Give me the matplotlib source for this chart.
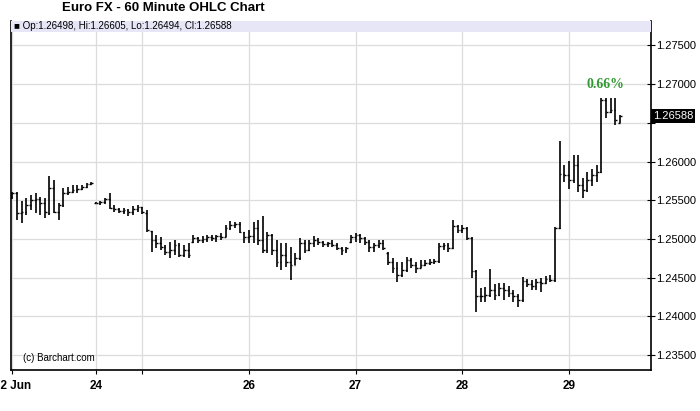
import numpy as np
import matplotlib
matplotlib.use('Agg')
import matplotlib.pyplot as plt
from matplotlib.patches import Rectangle
import matplotlib.transforms as mtransforms

plt.rcParams['font.family'] = ['Liberation Sans', 'DejaVu Sans']

# 60 minute OHLC bars, Euro FX, 22 Jun -> 29 Jun
opens = [
    1.2554, 1.2560, 1.2534, 1.2535, 1.2544, 1.2551, 1.2552, 1.2547, 1.2534, 1.2566,
    1.2535, 1.2544, 1.2560, 1.2561, 1.2563, 1.2565, 1.2567, 1.2571, 1.2547, 1.2547,
    1.2548, 1.2552, 1.2540, 1.2539, 1.2536, 1.2538, 1.2535, 1.2539, 1.2541, 1.2534,
    1.2510, 1.2499, 1.2495, 1.2490, 1.2483, 1.2486, 1.2492, 1.2479, 1.2486, 1.2496,
    1.2501, 1.2499, 1.2500, 1.2503, 1.2501, 1.2504, 1.2503, 1.2514, 1.2518, 1.2520,
    1.2509, 1.2503, 1.2504, 1.2514, 1.2499, 1.2486, 1.2505, 1.2486, 1.2470, 1.2479,
    1.2470, 1.2467, 1.2476, 1.2495, 1.2486, 1.2495, 1.2499, 1.2496, 1.2494, 1.2495,
    1.2492, 1.2488, 1.2486, 1.2496, 1.2503, 1.2505, 1.2501, 1.2496, 1.2490, 1.2492,
    1.2495, 1.2482, 1.2470, 1.2463, 1.2454, 1.2460, 1.2473, 1.2467, 1.2463, 1.2467,
    1.2469, 1.2470, 1.2472, 1.2491, 1.2492, 1.2488, 1.2517, 1.2512, 1.2514, 1.2501,
    1.2459, 1.2427, 1.2427, 1.2428, 1.2434, 1.2428, 1.2437, 1.2434, 1.2430, 1.2427,
    1.2421, 1.2446, 1.2442, 1.2439, 1.2444, 1.2443, 1.2448, 1.2447, 1.2514, 1.2584,
    1.2583, 1.2576, 1.2596, 1.2570, 1.2563, 1.2576, 1.2583, 1.2587, 1.2680, 1.2664,
    1.2667, 1.26498]
highs = [
    1.2561, 1.2561, 1.2549, 1.2553, 1.2557, 1.2560, 1.2554, 1.2553, 1.2582, 1.2576,
    1.2547, 1.2566, 1.2567, 1.2570, 1.2570, 1.2570, 1.2572, 1.2574, 1.2548, 1.2549,
    1.2553, 1.2560, 1.2544, 1.2540, 1.2540, 1.2539, 1.2543, 1.2544, 1.2541, 1.2538,
    1.2511, 1.2505, 1.2503, 1.2492, 1.2496, 1.2499, 1.2495, 1.2492, 1.2495, 1.2505,
    1.2503, 1.2504, 1.2505, 1.2505, 1.2505, 1.2508, 1.2518, 1.2523, 1.2522, 1.2522,
    1.2509, 1.2512, 1.2522, 1.2525, 1.2530, 1.2509, 1.2506, 1.2499, 1.2495, 1.2495,
    1.2490, 1.2482, 1.2501, 1.2499, 1.2499, 1.2504, 1.2501, 1.2498, 1.2496, 1.2499,
    1.2495, 1.2490, 1.2490, 1.2505, 1.2508, 1.2507, 1.2503, 1.2499, 1.2495, 1.2499,
    1.2499, 1.2483, 1.2476, 1.2470, 1.2470, 1.2477, 1.2476, 1.2470, 1.2473, 1.2473,
    1.2474, 1.2474, 1.2495, 1.2495, 1.2495, 1.2525, 1.2518, 1.2518, 1.2516, 1.2503,
    1.2460, 1.2437, 1.2438, 1.2461, 1.2442, 1.2443, 1.2443, 1.2439, 1.2434, 1.2429,
    1.2451, 1.2448, 1.2447, 1.2448, 1.2450, 1.2452, 1.2454, 1.2516, 1.2627, 1.2596,
    1.2601, 1.2609, 1.2609, 1.2579, 1.2587, 1.2591, 1.2596, 1.2682, 1.2682, 1.2682,
    1.2682, 1.26605]
lows = [
    1.2552, 1.2525, 1.2521, 1.2531, 1.2538, 1.2534, 1.2531, 1.2527, 1.2531, 1.2534,
    1.2525, 1.2541, 1.2557, 1.2560, 1.2560, 1.2563, 1.2566, 1.2570, 1.2546, 1.2544,
    1.2545, 1.2539, 1.2535, 1.2534, 1.2532, 1.2530, 1.2531, 1.2535, 1.2532, 1.2509,
    1.2483, 1.2488, 1.2486, 1.2479, 1.2476, 1.2479, 1.2477, 1.2477, 1.2476, 1.2495,
    1.2495, 1.2495, 1.2496, 1.2498, 1.2496, 1.2499, 1.2503, 1.2512, 1.2514, 1.2508,
    1.2495, 1.2495, 1.2495, 1.2492, 1.2482, 1.2482, 1.2479, 1.2464, 1.2460, 1.2464,
    1.2447, 1.2466, 1.2473, 1.2482, 1.2485, 1.2490, 1.2492, 1.2490, 1.2490, 1.2490,
    1.2486, 1.2479, 1.2482, 1.2495, 1.2496, 1.2495, 1.2492, 1.2483, 1.2483, 1.2488,
    1.2486, 1.2467, 1.2456, 1.2444, 1.2451, 1.2457, 1.2463, 1.2456, 1.2462, 1.2465,
    1.2467, 1.2468, 1.2469, 1.2486, 1.2483, 1.2487, 1.2508, 1.2508, 1.2499, 1.2450,
    1.2406, 1.2419, 1.2419, 1.2425, 1.2421, 1.2426, 1.2421, 1.2425, 1.2419, 1.2412,
    1.2419, 1.2438, 1.2434, 1.2434, 1.2432, 1.2442, 1.2444, 1.2444, 1.2513, 1.2574,
    1.2565, 1.2572, 1.2561, 1.2553, 1.2561, 1.2569, 1.2574, 1.2585, 1.2656, 1.2663,
    1.2647, 1.26494]
closes = [
    1.2560, 1.2534, 1.2535, 1.2544, 1.2551, 1.2552, 1.2547, 1.2535, 1.2566, 1.2535,
    1.2544, 1.2560, 1.2561, 1.2563, 1.2565, 1.2567, 1.2571, 1.2572, 1.2547, 1.2548,
    1.2552, 1.2540, 1.2539, 1.2536, 1.2538, 1.2535, 1.2539, 1.2541, 1.2535, 1.2512,
    1.2499, 1.2495, 1.2490, 1.2483, 1.2486, 1.2492, 1.2479, 1.2486, 1.2479, 1.2501,
    1.2499, 1.2500, 1.2503, 1.2501, 1.2504, 1.2503, 1.2514, 1.2518, 1.2520, 1.2509,
    1.2503, 1.2504, 1.2514, 1.2499, 1.2486, 1.2505, 1.2486, 1.2470, 1.2479, 1.2470,
    1.2467, 1.2476, 1.2495, 1.2486, 1.2495, 1.2499, 1.2496, 1.2494, 1.2495, 1.2492,
    1.2488, 1.2486, 1.2488, 1.2503, 1.2505, 1.2501, 1.2496, 1.2490, 1.2492, 1.2495,
    1.2488, 1.2470, 1.2463, 1.2454, 1.2460, 1.2473, 1.2467, 1.2463, 1.2467, 1.2469,
    1.2470, 1.2472, 1.2491, 1.2492, 1.2488, 1.2517, 1.2512, 1.2514, 1.2501, 1.2459,
    1.2427, 1.2427, 1.2428, 1.2434, 1.2428, 1.2437, 1.2434, 1.2430, 1.2427, 1.2421,
    1.2446, 1.2442, 1.2439, 1.2444, 1.2443, 1.2448, 1.2447, 1.2514, 1.2584, 1.2583,
    1.2576, 1.2596, 1.2570, 1.2563, 1.2576, 1.2583, 1.2587, 1.2680, 1.2664, 1.2667,
    1.2654, 1.26588]

# session boundaries (bar index) and their labels
day_ticks = [0, 18, 28, 51, 74, 97, 120]
day_labels = ['22 Jun', '24', '', '26', '27', '28', '29']
price_ticks = [1.235, 1.240, 1.245, 1.250, 1.255, 1.260, 1.265, 1.270, 1.275]
pct_change = '0.66%'

x = np.arange(len(closes))
last = closes[-1]

fig = plt.figure(figsize=(7.0, 4.11), dpi=100)
ax = fig.add_axes([0.0157, 0.0998, 0.9143, 0.8494])

ax.set_xlim(-0.3, 137.7)
ax.set_ylim(1.23309, 1.27818)

# grid; the label nearest the last price is hidden behind the price box
ax.set_yticks(price_ticks)
ax.set_yticklabels(['' if abs(p - last) < 0.002 else f'{p:.5f}' for p in price_ticks])
ax.set_xticks(day_ticks)
ax.set_xticklabels(day_labels, fontweight='bold', fontsize=8.5)
ax.grid(True, color='#dcdcdc', lw=0.9, zorder=0)

# OHLC bars
tk = 0.38
ax.vlines(x, lows, highs, color='black', lw=1.2, zorder=3)
ax.hlines(opens, x - tk, x, color='black', lw=1.0, zorder=3)
ax.hlines(closes, x, x + tk, color='black', lw=1.0, zorder=3)

# axes styling
ax.yaxis.tick_right()
ax.tick_params(axis='y', direction='inout', length=6, width=0.8, labelsize=8, pad=1,
               colors='black')
ax.tick_params(axis='x', direction='out', length=3, width=0.8, pad=4)
for s in ['left', 'right', 'bottom']:
    ax.spines[s].set_linewidth(1.2)
ax.spines['top'].set_visible(False)

# header strip with last bar values
ax.add_patch(Rectangle((0, 1 - 0.0315), 1, 0.0315, transform=ax.transAxes,
                       facecolor='#e6e6f7', edgecolor='none', zorder=4, clip_on=False))
ax.text(0.004, 1 - 0.0158,
        f'\u25a0 Op:{opens[-1]:.5f}, Hi:{highs[-1]:.5f}, Lo:{lows[-1]:.5f}, Cl:{last:.5f}',
        transform=ax.transAxes, fontsize=7, va='center', ha='left', zorder=5,
        family=['Liberation Sans', 'DejaVu Sans'])

# last price box on the right axis
trans = mtransforms.blended_transform_factory(ax.transAxes, ax.transData)
ax.text(1.003, last, f'{last:.5f}', transform=trans, color='white', fontsize=8,
        va='center', ha='left', zorder=6,
        bbox=dict(boxstyle='square,pad=0.15', facecolor='black', edgecolor='none'))

# percent change label
ax.text(127.9, 1.2700, pct_change, color='#339933', fontsize=10, fontweight='bold',
        ha='center', va='center', family='Liberation Serif', zorder=6)

ax.text(2.2, 1.2346, '(c) Barchart.com', fontsize=7, ha='left', va='center', zorder=6)

fig.text(0.089, 0.98, 'Euro FX - 60 Minute OHLC Chart', fontsize=9.5,
         fontweight='bold', ha='left', va='center')

fig.savefig('out.png', dpi=100)
